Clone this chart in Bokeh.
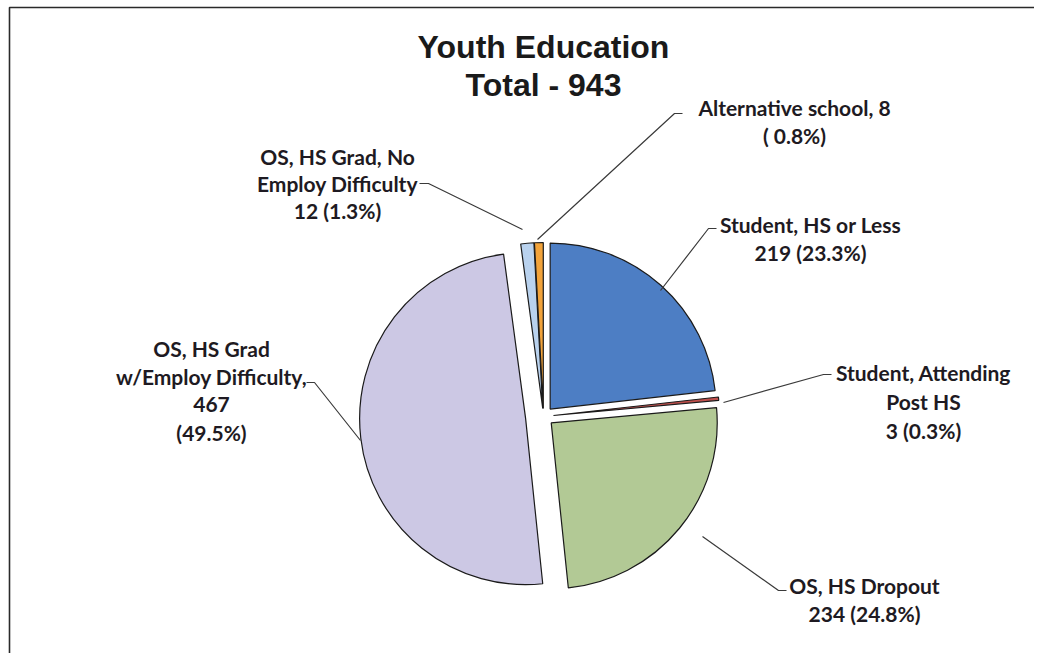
import math
from bokeh.plotting import figure
from bokeh.models import Range1d
from bokeh.core.properties import value
from bokeh.embed import file_html
from bokeh.resources import INLINE

# ---- data ----
categories = ["Student, HS or Less", "Student, Attending Post HS", "OS, HS Dropout",
              "OS, HS Grad w/Employ Difficulty", "OS, HS Grad, No Employ Difficulty",
              "Alternative school"]
counts = [219, 3, 234, 467, 12, 8]
pct_labels = ["23.3%", "0.3%", "24.8%", "49.5%", "1.3%", "0.8%"]
label_lines = [
    ["Student, HS or Less", "219 (23.3%)"],
    ["Student, Attending", "Post HS", "3 (0.3%)"],
    ["OS, HS Dropout", "234 (24.8%)"],
    ["OS, HS Grad", "w/Employ Difficulty,", "467", "(49.5%)"],
    ["OS, HS Grad, No", "Employ Difficulty", "12 (1.3%)"],
    ["Alternative school, 8", "( 0.8%)"],
]
colors = ["#4D7EC4", "#C0504D", "#B2C995", "#CCC8E4", "#B9D2EE", "#F2A33A"]

# ---- layout (page pixel coords, converted below) ----
W, H = 1034, 653
def X(px): return px
def Y(py): return H - py

center = (543, 416)
radius = 166
explode = [10, 10, 10, 18, 8, 8]

label_pos = [(810, 224, 28), (923, 372, 29), (864, 585, 28),
             (211, 348, 28), (337, 156, 27), (794, 107, 28)]
leaders = [
    [(716, 228), (708, 228), (660, 290)],
    [(831, 374), (823, 374), (723, 402)],
    [(786, 590), (778, 590), (702, 536)],
    [(306, 382), (314, 382), (360, 440)],
    [(419, 183), (428, 183), (522, 229)],
    [(682, 113), (674, 113), (537, 239)],
]

p = figure(width=W, height=H, output_backend="svg", toolbar_location=None,
           x_range=Range1d(0, W), y_range=Range1d(0, H),
           x_axis_location=None, y_axis_location=None, min_border=0)
p.grid.visible = False
p.outline_line_color = None
p.background_fill_color = "white"
p.border_fill_color = "white"

# chart frame (left and top edges visible in the reference)
p.line([X(9), X(9), X(1050)], [Y(669), Y(7), Y(7)], line_color="#2a2a2a", line_width=1.6)

total = sum(counts)
cum = 0
xs, ys, starts, ends = [], [], [], []
for i, c in enumerate(counts):
    a0 = math.pi / 2 - 2 * math.pi * cum / total
    cum += c
    a1 = math.pi / 2 - 2 * math.pi * cum / total
    mid = (a0 + a1) / 2
    xs.append(X(center[0]) + explode[i] * math.cos(mid))
    ys.append(Y(center[1]) + explode[i] * math.sin(mid))
    starts.append(a0)
    ends.append(a1)

p.wedge(x=xs, y=ys, radius=radius, start_angle=starts, end_angle=ends,
        direction="clock", fill_color=colors, line_color="#1a1a1a", line_width=1.2)

for pts in leaders:
    p.line([X(a) for a, b in pts], [Y(b) for a, b in pts], line_color="#3a3a3a", line_width=1.2)

for lines, (cx, y1, sp) in zip(label_lines, label_pos):
    p.text(x=[X(cx)] * len(lines), y=[Y(y1 + k * sp) for k in range(len(lines))], text=lines,
           text_align="center", text_baseline="middle", text_font=value("Lato"),
           text_font_style="bold", text_font_size="21px", text_color="#1e1a22")

p.text(x=[X(543), X(543)], y=[Y(46), Y(84)],
       text=["Youth Education", f"Total - {total}"],
       text_align="center", text_baseline="middle", text_font=value("Liberation Sans"),
       text_font_style="bold", text_font_size="32px", text_color="#1a1a1a")

open("out.html", "w").write(file_html(p, INLINE))
